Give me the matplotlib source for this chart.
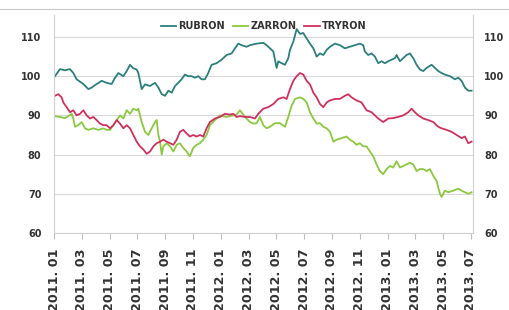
import matplotlib
matplotlib.use("Agg")
import matplotlib.pyplot as plt
from matplotlib.lines import Line2D

# x positions are months since 2011-01
tick_labels = ["2011. 01", "2011. 03", "2011. 05", "2011. 07", "2011. 09", "2011. 11",
               "2012. 01", "2012. 03", "2012. 05", "2012. 07", "2012. 09", "2012. 11",
               "2013. 01", "2013. 03", "2013. 05", "2013. 07"]
tick_months = [0, 2, 4, 6, 8, 10, 12, 14, 16, 18, 20, 22, 24, 26, 28, 30]

rubron_m = [0.07, 0.43, 0.79, 1.15, 1.39, 1.63, 2.11, 2.47, 2.71, 3.07, 3.43, 3.79, 4.15, 4.39, 4.63,
            4.99, 5.23, 5.47, 5.71, 5.95, 6.07, 6.31, 6.55, 6.91, 7.27, 7.51, 7.75, 7.99, 8.23, 8.47,
            8.71, 8.94, 9.18, 9.42, 9.66, 9.90, 10.14, 10.38, 10.62, 10.86, 11.10, 11.34, 11.70,
            12.06, 12.42, 12.78, 13.02, 13.26, 13.50, 13.86,
            14.10, 14.58, 15.06, 15.30, 15.54, 15.78, 15.90, 16.02, 16.14, 16.38, 16.62, 16.86,
            16.98, 17.22, 17.46, 17.70, 17.94, 18.18, 18.42, 18.66, 18.90, 19.14, 19.38, 19.62,
            19.86, 20.22, 20.57, 20.93, 21.29, 21.65, 22.01, 22.25, 22.37, 22.61, 22.85, 23.09,
            23.33, 23.57, 23.81, 24.05, 24.29, 24.53, 24.65, 24.89, 25.13, 25.37, 25.61, 25.85,
            26.09, 26.33, 26.57, 26.81, 27.17, 27.41, 27.65, 27.89, 28.13, 28.49, 28.85, 29.09,
            29.33, 29.57, 29.81, 30.05]
rubron_v = [100.0, 101.8, 101.5, 101.8, 100.8, 99.2, 98.0, 96.7, 97.1, 98.0, 98.8, 98.3, 98.0, 99.6,
            100.8, 100.0, 101.3, 102.9, 102.0, 101.7, 100.8, 96.7, 97.9, 97.5, 98.3, 97.1, 95.4,
            95.0, 96.3, 95.8, 97.5, 98.3, 99.2, 100.4, 100.0, 100.0, 99.6, 100.0, 99.2, 99.2,
            100.8, 102.9, 103.3, 104.2, 105.4, 105.8, 107.1, 108.3, 107.9, 107.5,
            107.9, 108.3, 108.5, 107.9, 107.1, 106.3, 104.2, 102.1, 103.8, 103.3, 102.9, 104.6,
            106.7, 108.8, 112.0, 110.8, 111.0, 109.6, 108.3, 107.1, 105.0, 105.8, 105.4, 106.7,
            107.5, 108.3, 107.9, 107.1, 107.5, 107.9, 108.3, 107.9, 106.3, 105.4, 105.8, 105.0,
            103.3, 103.8, 103.3, 103.8, 104.2, 104.6, 105.4, 103.8, 104.6, 105.4, 105.8, 104.6,
            102.9, 101.7, 101.3, 102.1, 102.9, 102.1, 101.3, 100.8, 100.4, 100.0, 99.2, 99.6,
            98.8, 97.1, 96.3, 96.3]

zarron_m = [0.07, 0.43, 0.79, 1.03, 1.27, 1.39, 1.51, 1.75, 1.99, 2.23, 2.47, 2.83, 3.19, 3.55, 3.79,
            4.03, 4.27, 4.51, 4.75, 4.99, 5.23, 5.47, 5.71, 5.95, 6.07, 6.31, 6.55, 6.79, 7.03, 7.27,
            7.39, 7.51, 7.63, 7.75, 7.87, 8.11, 8.35, 8.59, 8.83, 9.06, 9.30, 9.54, 9.78, 10.02,
            10.26, 10.50, 10.74, 10.98, 11.22, 11.58, 11.94, 12.42, 12.90, 13.14, 13.38, 13.74,
            14.10, 14.34, 14.58, 14.82, 15.06, 15.30, 15.54, 15.90, 16.26, 16.62, 16.86, 17.10,
            17.34, 17.70, 17.94, 18.18, 18.42, 18.66, 18.90, 19.14, 19.38, 19.62, 19.86, 20.10,
            20.34, 20.69, 21.05, 21.29, 21.53, 21.77, 22.01, 22.25, 22.49, 22.73, 22.97, 23.21,
            23.45, 23.69, 23.93, 24.17, 24.41, 24.65, 24.89, 25.13, 25.37, 25.61, 25.85, 26.09,
            26.33, 26.57, 26.81, 27.05, 27.29, 27.53, 27.77, 27.89, 28.13, 28.37, 28.73, 29.09,
            29.33, 29.57, 29.81, 30.05]
zarron_v = [89.8, 89.6, 89.3, 89.8, 90.4, 89.2, 87.1, 87.5, 88.3, 86.7, 86.3, 86.7, 86.3, 86.7, 86.3,
            86.3, 87.5, 88.8, 90.0, 89.2, 91.3, 90.4, 91.7, 91.3, 91.7, 88.3, 85.8, 85.0, 86.7, 88.3,
            88.8, 85.0, 83.3, 80.0, 82.1, 82.9, 82.1, 80.8, 82.5, 82.9, 81.7, 80.8, 79.6, 81.7,
            82.5, 82.9, 83.8, 85.0, 87.5, 88.8, 90.0, 89.6, 90.0, 90.2, 91.3, 89.6,
            88.3, 87.9, 88.0, 89.6, 87.5, 86.7, 87.1, 88.0, 88.0, 87.1, 89.6, 92.5,
            94.2, 94.6, 94.2, 93.3, 90.8, 89.2, 87.9, 88.0, 87.1, 86.7, 85.8, 83.3,
            83.8, 84.2, 84.6, 83.8, 83.3, 82.5, 82.9, 82.1, 82.1, 80.8, 79.6, 77.5,
            75.8, 75.0, 76.3, 77.1, 76.7, 78.3, 76.7, 77.1, 77.5, 77.9, 77.5, 75.8,
            76.3, 76.3, 75.8, 76.3, 74.6, 73.3, 70.0, 69.2, 70.8, 70.4, 70.8, 71.3,
            70.8, 70.4, 70.0, 70.4]

tryron_m = [0.07, 0.31, 0.55, 0.67, 0.91, 1.15, 1.39, 1.63, 1.87, 2.11, 2.35, 2.59, 2.83, 3.07, 3.31,
            3.55, 3.79, 4.03, 4.27, 4.51, 4.75, 4.99, 5.23, 5.47, 5.71, 5.95, 6.19, 6.43, 6.67, 6.91,
            7.15, 7.39, 7.63, 7.87, 8.11, 8.35, 8.59, 8.83, 9.06, 9.30, 9.54, 9.78, 10.02, 10.26,
            10.50, 10.74, 10.98, 11.22, 11.58, 11.94, 12.30, 12.66, 12.90, 13.14, 13.38, 13.74,
            14.10, 14.46, 14.70, 15.06, 15.42, 15.78, 16.14, 16.50, 16.74, 16.98, 17.22, 17.46,
            17.70, 17.94, 18.18, 18.42, 18.66, 18.90, 19.14, 19.38, 19.62, 19.86, 20.22, 20.57,
            20.93, 21.17, 21.41, 21.77, 22.13, 22.49, 22.85, 23.09, 23.33, 23.69, 24.05, 24.41,
            24.77, 25.13, 25.49, 25.73, 25.97, 26.21, 26.57, 26.93, 27.29, 27.65, 27.89, 28.25,
            28.61, 28.97, 29.33, 29.57, 29.81, 30.05]
tryron_v = [95.0, 95.4, 94.6, 93.3, 92.1, 90.8, 91.3, 90.0, 90.4, 91.3, 90.0, 89.2, 89.6, 88.8, 87.9,
            87.5, 87.5, 86.7, 87.5, 88.8, 87.9, 86.7, 87.5, 86.7, 85.0, 83.3, 82.1, 81.3, 80.2, 80.8,
            82.1, 82.9, 83.3, 83.8, 83.3, 82.9, 82.5, 83.8, 85.8, 86.3, 85.4, 84.6, 85.0, 84.6,
            85.0, 84.6, 86.7, 88.3, 89.2, 89.6, 90.4, 90.2, 90.4, 89.6, 89.8, 89.6,
            89.6, 89.2, 90.4, 91.7, 92.1, 92.9, 94.2, 94.6, 94.2, 96.7, 98.8, 100.0,
            100.8, 100.4, 98.8, 97.9, 95.8, 94.6, 92.9, 92.1, 93.3, 93.8, 94.2, 94.2,
            95.0, 95.4, 94.6, 93.8, 93.3, 91.3, 90.8, 90.0, 89.2, 88.3, 89.2, 89.3,
            89.6, 90.0, 90.8, 91.7, 90.8, 90.0, 89.2, 88.8, 88.3, 87.1, 86.7, 86.3,
            85.8, 85.0, 84.2, 84.6, 82.9, 83.3]

series_names = ["RUBRON", "ZARRON", "TRYRON"]
colors = ["#2b7f7c", "#8cc83f", "#d0305e"]

W, H = 509, 310
fig = plt.figure(figsize=(W / 100, H / 100), dpi=100)
fig.patch.set_facecolor("white")
ax = fig.add_axes([54 / W, (H - 233) / H, (473 - 54) / W, (233 - 15) / H])

for m, v, name, c in zip([rubron_m, zarron_m, tryron_m], [rubron_v, zarron_v, tryron_v],
                         series_names, colors):
    ax.plot(m, v, color=c, lw=1.3, label=name, solid_joinstyle="round")

ax.set_xlim(0, 30.15)
ax.set_ylim(60, 115.6)
yt = [60, 70, 80, 90, 100, 110]
ax.set_yticks(yt)
ax.set_yticklabels([str(t) for t in yt], fontsize=7, fontweight="bold", color="#333333")
ax.set_xticks(tick_months)
ax.set_xticklabels(tick_labels, rotation=90, fontsize=9.2, fontweight="bold", color="#333333",
                   va="top", ha="center")
ax.tick_params(axis="y", length=0, pad=9)
ax.tick_params(axis="x", length=4, color="#bfbfbf", pad=7)
ax.grid(axis="y", color="#d9d9d9", lw=0.8)
ax.set_axisbelow(True)
for s in ["left", "right", "bottom"]:
    ax.spines[s].set_color("#d0d0d0")
    ax.spines[s].set_linewidth(0.8)
ax.spines["top"].set_visible(False)

ax2 = ax.twinx()
ax2.set_ylim(ax.get_ylim())
ax2.set_yticks(yt)
ax2.set_yticklabels([str(t) for t in yt], fontsize=7, fontweight="bold", color="#333333")
ax2.tick_params(axis="y", length=0, pad=8)
for s in ax2.spines.values():
    s.set_visible(False)

leg = ax.legend(loc="upper center", bbox_to_anchor=(0.5, 0.99), ncol=3, frameon=False,
                prop={"size": 7, "weight": "bold"}, handlelength=1.6, handletextpad=0.2,
                columnspacing=0.8, borderaxespad=0)
for t in leg.get_texts():
    t.set_color("#333333")

fig.add_artist(Line2D([0, 1], [1 - 9 / H, 1 - 9 / H], transform=fig.transFigure,
                      color="#c8c8c8", lw=0.8))

fig.savefig("out.png", dpi=100)
